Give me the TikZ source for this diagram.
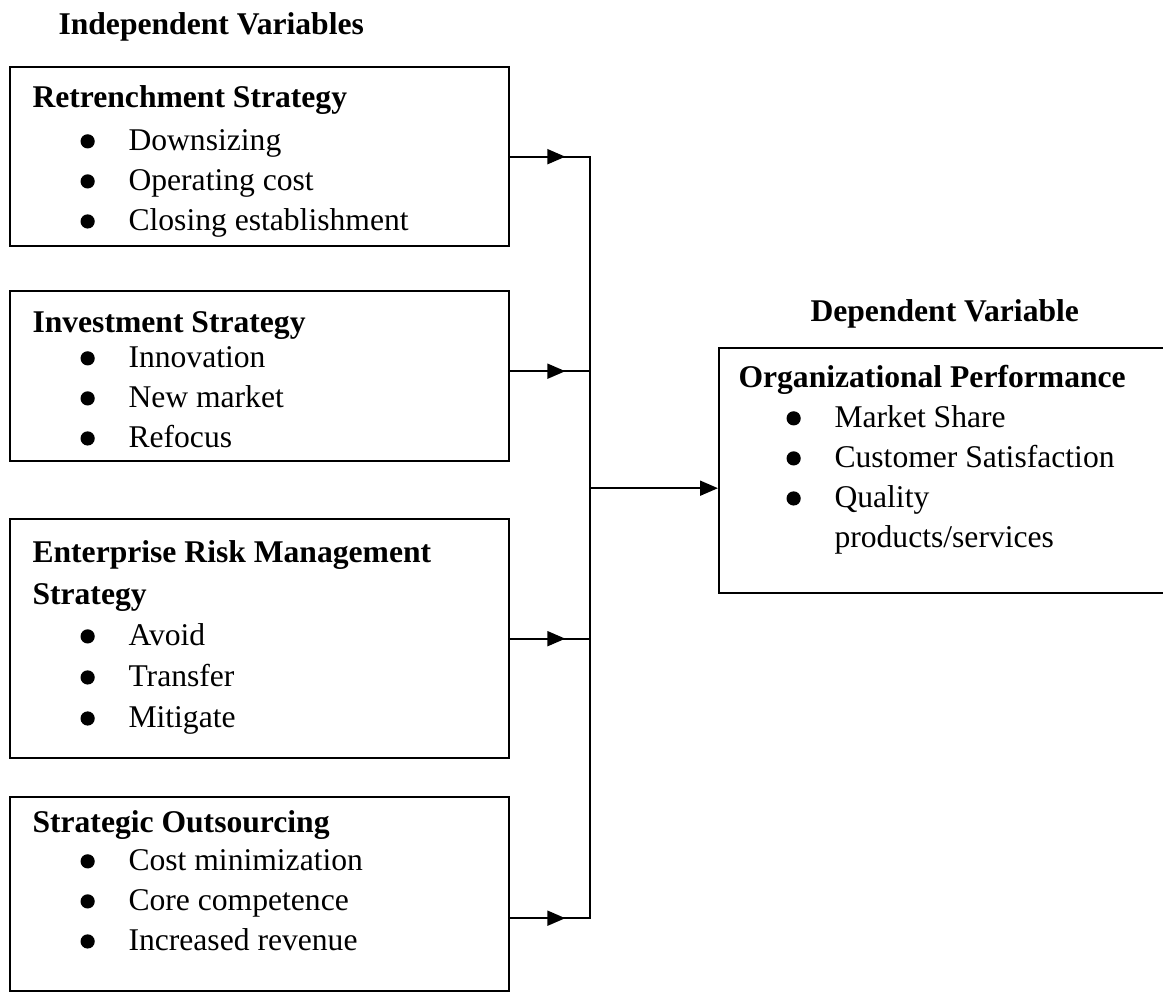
\documentclass[tikz,border=0pt]{standalone}
\usepackage{fontspec}
\setmainfont{Liberation Serif}
\usetikzlibrary{arrows.meta,calc}
\newdimen\pxu \pxu=0.3796pt
\newcommand{\blt}{\tikz[baseline=0pt]\fill (0,3.3pt) circle (2.7pt);}
\newcommand{\itm}[1]{\hspace*{48\pxu}\makebox[48\pxu][l]{\blt}#1}
\begin{document}
\begin{tikzpicture}[
  x=0.3796pt, y=-0.3796pt,
  font=\fontsize{12}{15.2}\selectfont,
  varbox/.style={draw, line width=0.9pt, rectangle, anchor=north west, inner sep=0pt},
  txt/.style={anchor=base west, inner sep=0pt},
  head/.style={anchor=base west, inner sep=0pt, font=\fontsize{12}{15.2}\selectfont\bfseries},
  wire/.style={line width=0.9pt},
  arr/.style={-{Triangle[length=6.8pt, width=5.6pt]}, line width=0.9pt},
]
\useasboundingbox (0,0) rectangle (1163,1004);
\clip (0,0) rectangle (1163,1004);
% headings
\node[head] (indep) at (58,34) {Independent Variables};
\node[head] (dep) at (810,321) {Dependent Variable};
% boxes
\node[varbox, minimum width=499*\pxu, minimum height=179*\pxu] (retrench) at (9,66) {};
\node[varbox, minimum width=499*\pxu, minimum height=170*\pxu] (invest) at (9,290) {};
\node[varbox, minimum width=499*\pxu, minimum height=239*\pxu] (erm) at (9,518) {};
\node[varbox, minimum width=499*\pxu, minimum height=194*\pxu] (outsrc) at (9,796) {};
\node[varbox, minimum width=520*\pxu, minimum height=245*\pxu] (perf) at (718,347) {};
% box texts
\node[txt] (retrench-txt) at (32,107) {\begin{tabular}[t]{@{}l@{}}
  \textbf{Retrenchment Strategy}\\[3\pxu]
  \itm{Downsizing}\\
  \itm{Operating cost}\\
  \itm{Closing establishment}
\end{tabular}};
\node[txt] (invest-txt) at (32,332) {\begin{tabular}[t]{@{}l@{}}
  \textbf{Investment Strategy}\\[-5\pxu]
  \itm{Innovation}\\
  \itm{New market}\\
  \itm{Refocus}
\end{tabular}};
\node[txt] (erm-txt) at (32,562) {\begin{tabular}[t]{@{}l@{}}
  \textbf{Enterprise Risk Management}\\[2\pxu]
  \textbf{Strategy}\\[1\pxu]
  \itm{Avoid}\\[1\pxu]
  \itm{Transfer}\\[1\pxu]
  \itm{Mitigate}
\end{tabular}};
\node[txt] (outsrc-txt) at (32,832) {\begin{tabular}[t]{@{}l@{}}
  \textbf{Strategic Outsourcing}\\[-2\pxu]
  \itm{Cost minimization}\\
  \itm{Core competence}\\
  \itm{Increased revenue}
\end{tabular}};
\node[txt] (perf-txt) at (738,387) {\begin{tabular}[t]{@{}l@{}}
  \textbf{Organizational Performance}\\
  \itm{Market Share}\\
  \itm{Customer Satisfaction}\\
  \itm{Quality}\\
  \hspace*{96\pxu}products/services
\end{tabular}};
% connectors
\coordinate (bus) at (590,0);
\coordinate (retrench-out) at (retrench.east);
\coordinate (invest-out) at ($(invest.east)+(0,-5)$);
\coordinate (erm-out) at (erm.east);
\coordinate (outsrc-out) at ($(outsrc.east)+(0,24)$);
\coordinate (perf-in) at ($(perf.west)+(0,17.5)$);
\draw[wire] (retrench-out) -- (retrench-out -| bus) -- (outsrc-out -| bus) -- (outsrc-out);
\draw[wire] (invest-out) -- (invest-out -| bus);
\draw[wire] (erm-out) -- (erm-out -| bus);
\foreach \b in {retrench,invest,erm,outsrc}
  \draw[arr] (\b-out) -- ++(55,0);
\draw[arr] (perf-in -| bus) -- (perf-in);
\end{tikzpicture}
\end{document}
